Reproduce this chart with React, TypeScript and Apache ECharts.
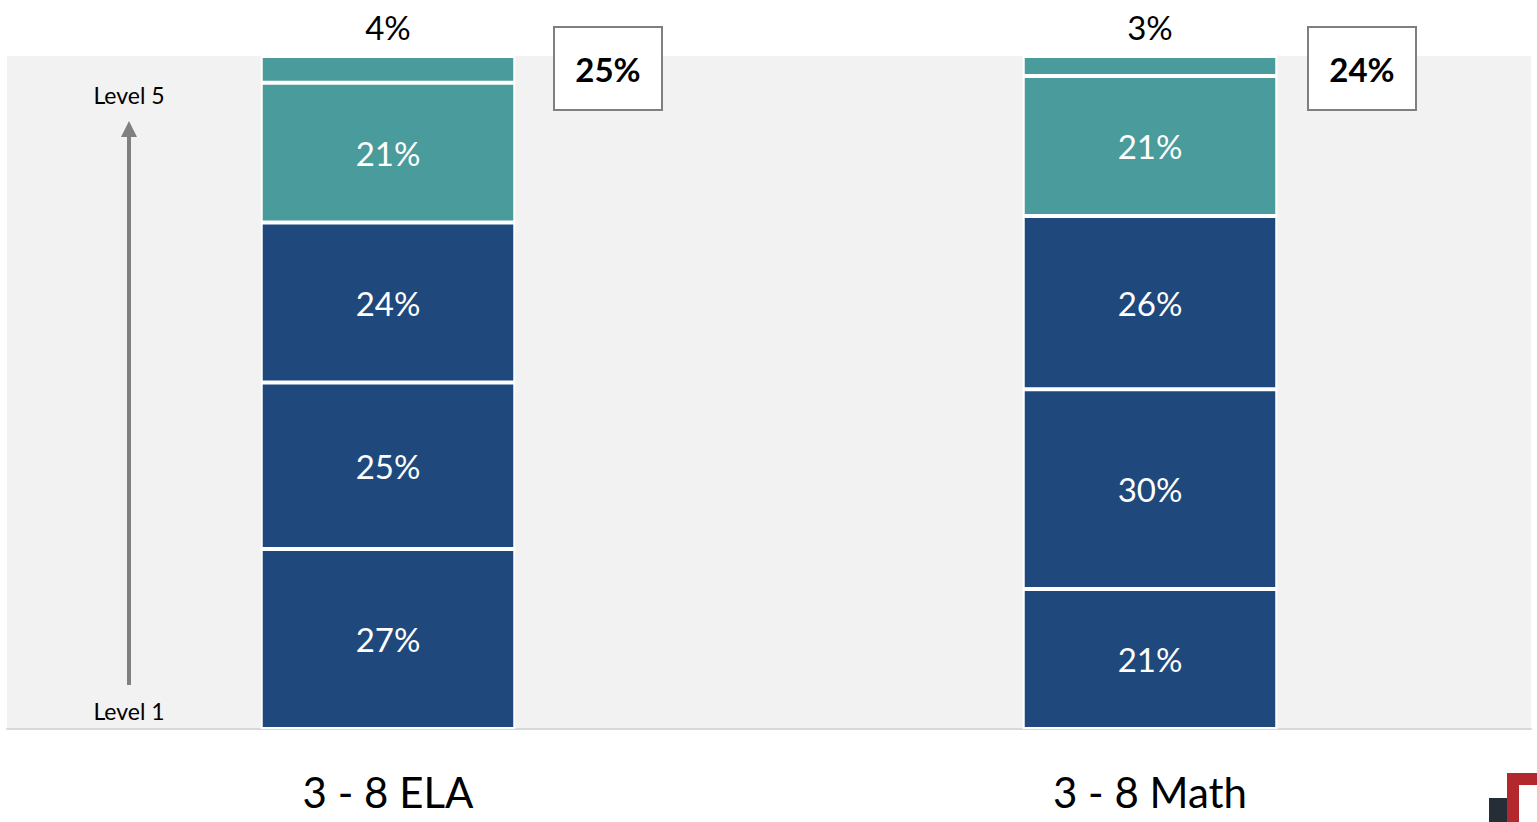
import React, { useEffect, useRef } from "react";
import * as echarts from "echarts";

const categories = ["3 - 8 ELA", "3 - 8 Math"];
const levelNames = ["Level 1", "Level 2", "Level 3", "Level 4", "Level 5"];
const level1 = [27, 21];
const level2 = [25, 30];
const level3 = [24, 26];
const level4 = [21, 21];
const level5 = [4, 3];
const levelColors = ["#1f497d", "#1f497d", "#1f497d", "#4a9b9b", "#4a9b9b"];

const FONT = "Lato";

export default function App() {
  const ref = useRef<HTMLDivElement>(null);
  useEffect(() => {
    if (!ref.current) return;
    const chart = echarts.init(ref.current, null, { renderer: "svg" });
    const levels = [level1, level2, level3, level4, level5];
    const topTotals = categories.map((_, i) => level4[i] + level5[i]);
    const series = levels.map((vals, li) => ({
      name: levelNames[li],
      type: "bar",
      stack: "total",
      barWidth: "33.4%",
      data: vals,
      itemStyle: { color: levelColors[li], borderColor: "#ffffff", borderWidth: 2 },
      label:
        li === 4
          ? {
              show: true,
              position: "top",
              distance: 13,
              color: "#000",
              fontFamily: FONT,
              fontSize: 33,
              lineHeight: 33,
              formatter: "{c}%",
            }
          : {
              show: true,
              position: "inside",
              color: "#fff",
              fontFamily: FONT,
              fontSize: 33,
              formatter: "{c}%",
            },
    }));
    const boxX = [554, 1308];
    const graphic: any[] = [];
    categories.forEach((_, i) => {
      graphic.push({
        type: "rect",
        shape: { x: boxX[i], y: 27, width: 108, height: 83 },
        style: { fill: "#ffffff", stroke: "#7f7f7f", lineWidth: 2 },
        z: 10,
      });
      graphic.push({
        type: "text",
        x: boxX[i] + 54,
        y: 69,
        style: {
          text: topTotals[i] + "%",
          fill: "#000",
          font: "bold 33px " + FONT,
          textAlign: "center",
          textVerticalAlign: "middle",
        },
        z: 11,
      });
    });
    graphic.push(
      {
        type: "text",
        x: 129,
        y: 95,
        style: { text: "Level 5", fill: "#000", font: "23px " + FONT, textAlign: "center", textVerticalAlign: "middle" },
        z: 10,
      },
      {
        type: "text",
        x: 129,
        y: 711,
        style: { text: "Level 1", fill: "#000", font: "23px " + FONT, textAlign: "center", textVerticalAlign: "middle" },
        z: 10,
      },
      {
        type: "line",
        shape: { x1: 129, y1: 685, x2: 129, y2: 134 },
        style: { stroke: "#808080", lineWidth: 4 },
        z: 10,
      },
      {
        type: "polygon",
        shape: { points: [[129, 121], [121, 137], [137, 137]] },
        style: { fill: "#808080" },
        z: 10,
      },
      {
        type: "rect",
        shape: { x: 1489, y: 798, width: 19, height: 24 },
        style: { fill: "#252e36" },
        z: 10,
      },
      {
        type: "rect",
        shape: { x: 1507, y: 773, width: 12, height: 49 },
        style: { fill: "#b3282d" },
        z: 10,
      },
      {
        type: "rect",
        shape: { x: 1507, y: 773, width: 30, height: 12 },
        style: { fill: "#b3282d" },
        z: 10,
      }
    );
    chart.setOption({
      animation: false,
      backgroundColor: "#ffffff",
      grid: {
        left: 7,
        right: 6,
        top: 56,
        bottom: 93,
        show: true,
        backgroundColor: "#f2f2f2",
        borderWidth: 0,
        containLabel: false,
      },
      xAxis: {
        type: "category",
        data: categories,
        axisLine: { show: true, lineStyle: { color: "#d9d9d9", width: 2 } },
        axisTick: { show: false },
        axisLabel: { color: "#000", fontFamily: FONT, fontSize: 42, margin: 42 },
      },
      yAxis: {
        type: "value",
        min: 0,
        max: 101,
        show: false,
        splitLine: { show: false },
      },
      series,
      graphic,
    });
    return () => chart.dispose();
  }, []);
  return (
    <div
      ref={ref}
      style={{ position: "fixed", left: 0, top: 0, width: 1537, height: 822 }}
    />
  );
}
